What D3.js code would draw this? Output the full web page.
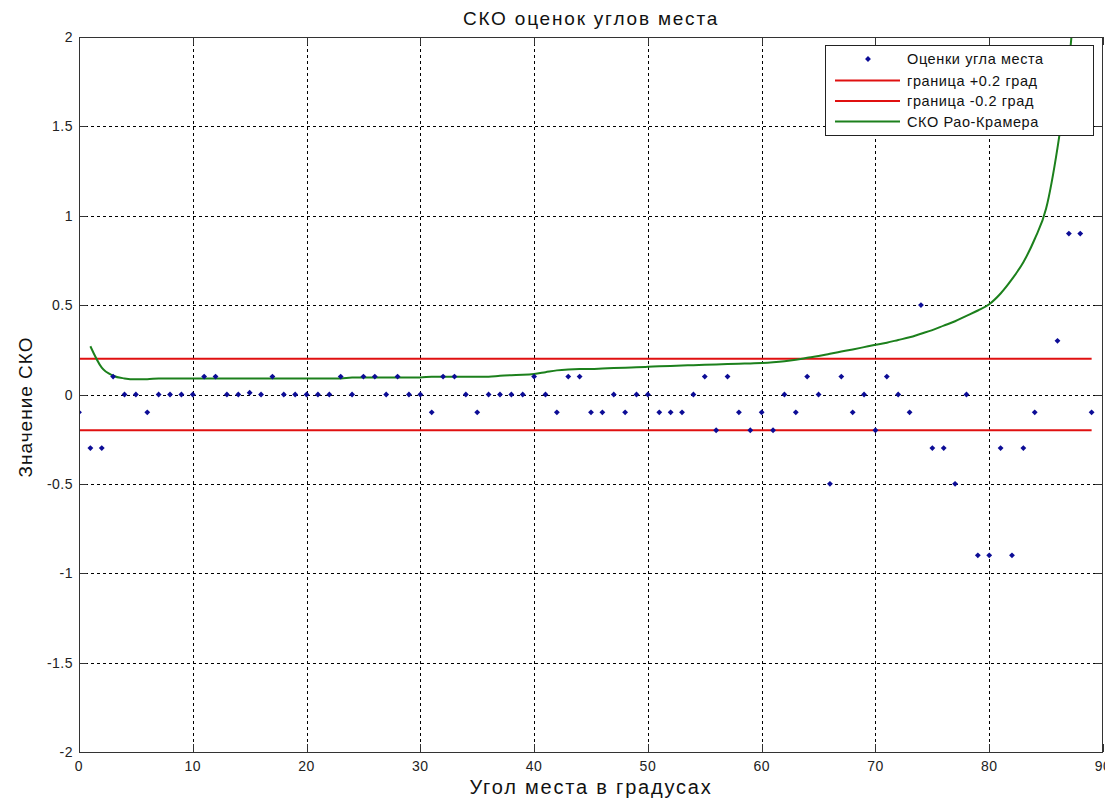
<!DOCTYPE html>
<html>
<head>
<meta charset="utf-8">
<script src="https://cdn.jsdelivr.net/npm/d3@7"></script>
<style>
  body { margin: 0; background: #fff; }
  text { font-family: "Liberation Sans", Arial, sans-serif; }
</style>
</head>
<body>
<div id="graphique"></div>
<script>
// --- DONNÉES ---
const xTicks = [0, 10, 20, 30, 40, 50, 60, 70, 80, 90];
const yTicks = [-2, -1.5, -1, -0.5, 0, 0.5, 1, 1.5, 2];

// Оценки угла места (x = 0..89), null = hors du cadre
const estimates = [
  -0.1, -0.3, -0.3, 0.1, 0, 0, -0.1, 0, 0, 0,
  0, 0.1, 0.1, 0, 0, 0.01, 0, 0.1, 0, 0,
  0, 0, 0, 0.1, 0, 0.1, 0.1, 0, 0.1, 0,
  0, -0.1, 0.1, 0.1, 0, -0.1, 0, 0, 0, 0,
  0.1, 0, -0.1, 0.1, 0.1, -0.1, -0.1, 0, -0.1, 0,
  0, -0.1, -0.1, -0.1, 0, 0.1, -0.2, 0.1, -0.1, -0.2,
  -0.1, -0.2, 0, -0.1, 0.1, 0, -0.5, 0.1, -0.1, 0,
  -0.2, 0.1, 0, -0.1, 0.5, -0.3, -0.3, -0.5, 0, -0.9,
  -0.9, -0.3, -0.9, -0.3, -0.1, null, 0.3, 0.9, 0.9, -0.1
];

// СКО Рао-Крамера (x = 1..88)
const crbX = d3.range(1, 89);
const crbY = [
  0.27, 0.15, 0.105, 0.09, 0.085, 0.085, 0.09, 0.09, 0.09, 0.09,
  0.09, 0.09, 0.09, 0.09, 0.09, 0.09, 0.09, 0.09, 0.09, 0.09,
  0.09, 0.09, 0.09, 0.095, 0.095, 0.095, 0.095, 0.095, 0.095, 0.095,
  0.1, 0.1, 0.1, 0.1, 0.1, 0.1, 0.105, 0.108, 0.11, 0.115,
  0.125, 0.135, 0.14, 0.142, 0.142, 0.145, 0.148, 0.15, 0.152, 0.155,
  0.158, 0.16, 0.162, 0.164, 0.166, 0.168, 0.17, 0.172, 0.174, 0.176,
  0.18, 0.186, 0.195, 0.205, 0.215, 0.228, 0.24, 0.252, 0.265, 0.278,
  0.29, 0.305, 0.32, 0.34, 0.36, 0.385, 0.41, 0.44, 0.47, 0.505,
  0.565, 0.645, 0.74, 0.87, 1.04, 1.38, 1.85, 2.6
];

// границы ±0.2 град, de 0 à 89
const bounds = [0.2, -0.2];
const boundX = [0, 89];

const legendLabels = ["Оценки угла места", "граница +0.2 град", "граница -0.2 град", "СКО Рао-Крамера"];

// --- CONFIGURATION ---
const largeur = 1105;
const hauteur = 800;
const m = { left: 79, right: 2, top: 37, bottom: 48 };

const blue = "#0c0c96";
const red = "#e01010";
const green = "#1c801c";

const svg = d3.select("#graphique")
    .append("svg")
    .attr("width", largeur)
    .attr("height", hauteur);

const x = d3.scaleLinear().domain([0, 90]).range([m.left, largeur - m.right]);
const y = d3.scaleLinear().domain([-2, 2]).range([hauteur - m.bottom, m.top]);

// --- GRILLE ---
const grid = svg.append("g")
    .attr("stroke", "#000")
    .attr("stroke-width", 1)
    .attr("stroke-dasharray", "3,3");

grid.selectAll("line.v")
    .data(xTicks.slice(1, -1))
    .join("line")
    .attr("x1", d => Math.round(x(d)) + 0.5)
    .attr("x2", d => Math.round(x(d)) + 0.5)
    .attr("y1", y(2))
    .attr("y2", y(-2));

grid.selectAll("line.h")
    .data(yTicks.slice(1, -1))
    .join("line")
    .attr("class", "h")
    .attr("x1", x(0))
    .attr("x2", x(90))
    .attr("y1", d => Math.round(y(d)) + 0.5)
    .attr("y2", d => Math.round(y(d)) + 0.5);

// --- COURBES ---
svg.append("clipPath").attr("id", "zone")
    .append("rect")
    .attr("x", x(0)).attr("y", y(2))
    .attr("width", x(90) - x(0)).attr("height", y(-2) - y(2));

const plot = svg.append("g").attr("clip-path", "url(#zone)");

plot.selectAll("line.bound")
    .data(bounds)
    .join("line")
    .attr("x1", x(boundX[0]))
    .attr("x2", x(boundX[1]))
    .attr("y1", d => y(d))
    .attr("y2", d => y(d))
    .attr("stroke", red)
    .attr("stroke-width", 2);

const line = d3.line()
    .x((d, i) => x(crbX[i]))
    .y(d => y(d))
    .curve(d3.curveMonotoneX);

plot.append("path")
    .datum(crbY)
    .attr("d", line)
    .attr("fill", "none")
    .attr("stroke", green)
    .attr("stroke-width", 2);

// point MATLAB '.' : petit losange
const marker = d3.symbol().type(d3.symbolSquare).size(17);

plot.selectAll("path.pt")
    .data(estimates.map((v, i) => ({ x: i, v: v })).filter(d => d.v !== null))
    .join("path")
    .attr("class", "pt")
    .attr("d", marker)
    .attr("transform", d => `translate(${x(d.x)},${y(d.v)}) rotate(45)`)
    .attr("fill", blue);

// --- AXES (cadre + graduations intérieures) ---
const axisCol = "#333";
svg.append("rect")
    .attr("x", x(0) + 0.5).attr("y", y(2) + 0.5)
    .attr("width", x(90) - x(0) - 1).attr("height", y(-2) - y(2))
    .attr("fill", "none")
    .attr("stroke", axisCol);

const ticks = svg.append("g").attr("stroke", axisCol);
const tl = 8;
xTicks.forEach(t => {
    const px = Math.round(x(t)) + 0.5;
    ticks.append("line").attr("x1", px).attr("x2", px).attr("y1", y(-2)).attr("y2", y(-2) - tl);
    ticks.append("line").attr("x1", px).attr("x2", px).attr("y1", y(2)).attr("y2", y(2) + tl);
});
yTicks.forEach(t => {
    const py = Math.round(y(t)) + 0.5;
    ticks.append("line").attr("x1", x(0)).attr("x2", x(0) + tl).attr("y1", py).attr("y2", py);
    ticks.append("line").attr("x1", x(90)).attr("x2", x(90) - tl).attr("y1", py).attr("y2", py);
});

svg.append("g").selectAll("text")
    .data(xTicks)
    .join("text")
    .attr("x", d => x(d))
    .attr("y", y(-2) + 19)
    .attr("text-anchor", "middle")
    .attr("font-size", 14)
    .attr("letter-spacing", 0.5)
    .attr("fill", "#222")
    .text(d => d);

svg.append("g").selectAll("text")
    .data(yTicks)
    .join("text")
    .attr("x", x(0) - 6)
    .attr("y", d => y(d) + 5)
    .attr("text-anchor", "end")
    .attr("font-size", 14)
    .attr("letter-spacing", 0.5)
    .attr("fill", "#222")
    .text(d => d);

// --- TITRES ---
svg.append("text")
    .attr("x", (x(0) + x(90)) / 2)
    .attr("y", 25)
    .attr("text-anchor", "middle")
    .attr("font-size", 19)
    .attr("letter-spacing", 1.8)
    .attr("fill", "#111")
    .text("СКО оценок углов места");

svg.append("text")
    .attr("x", (x(0) + x(90)) / 2)
    .attr("y", 794)
    .attr("text-anchor", "middle")
    .attr("font-size", 20)
    .attr("letter-spacing", 1.8)
    .attr("fill", "#111")
    .text("Угол места в градусах");

svg.append("text")
    .attr("transform", `translate(32,407) rotate(-90)`)
    .attr("text-anchor", "middle")
    .attr("font-size", 19)
    .attr("letter-spacing", 1)
    .attr("fill", "#111")
    .text("Значение СКО");

// --- LÉGENDE ---
const leg = svg.append("g").attr("transform", "translate(825,45)");
leg.append("rect")
    .attr("x", 0.5).attr("y", 0.5)
    .attr("width", 268).attr("height", 90)
    .attr("fill", "#fff")
    .attr("stroke", "#222");

const rowsY = [14, 35.5, 56, 76.5];
leg.append("path")
    .attr("d", marker)
    .attr("transform", `translate(43,${rowsY[0]}) rotate(45)`)
    .attr("fill", blue);
[red, red, green].forEach((c, i) => {
    leg.append("line")
        .attr("x1", 10).attr("x2", 75)
        .attr("y1", rowsY[i + 1]).attr("y2", rowsY[i + 1])
        .attr("stroke", c).attr("stroke-width", 2);
});
leg.selectAll("text")
    .data(legendLabels)
    .join("text")
    .attr("x", 82)
    .attr("y", (d, i) => rowsY[i] + 5)
    .attr("font-size", 14.5)
    .attr("letter-spacing", 0.6)
    .attr("fill", "#111")
    .text(d => d);
</script>
</body>
</html>
